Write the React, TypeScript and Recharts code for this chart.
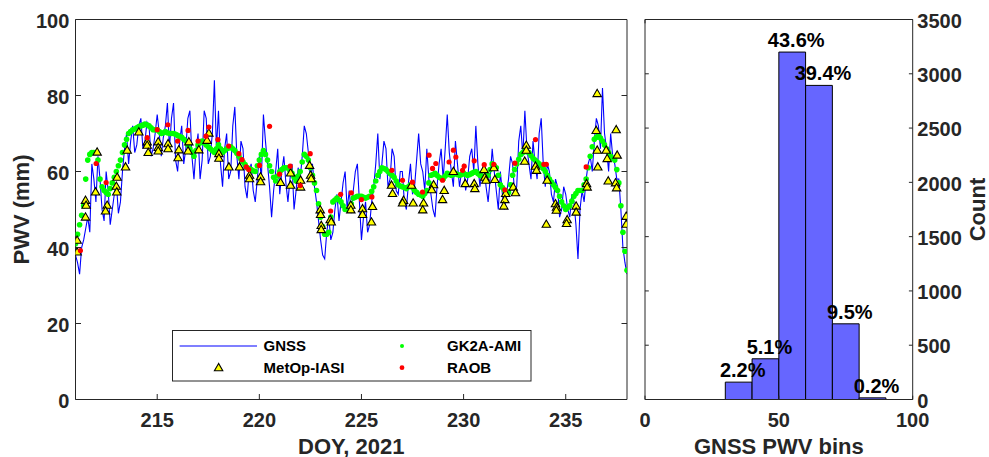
import React from 'react'
import {
  ComposedChart,
  Line,
  Scatter,
  Bar,
  XAxis,
  YAxis,
  Legend,
  LabelList,
} from 'recharts'

const FONT = "'Liberation Sans', Arial, Helvetica, sans-serif"
const INK = '#262626'

// GNSS and GK2A-AMI PWV (mm), read every 0.1 day from DOY 211.0 (one row per day)
const seriesStart = 211
const seriesStep = 0.1
const gnssPwv = [
  38, 36, 33, 40, 42, 45, 48, 44, 62, 58,
  52, 64, 58, 50, 47, 60, 55, 46, 50, 54,
  57, 49, 52, 60, 66, 70, 62, 68, 72, 65,
  67, 72, 74, 66, 68, 73, 72, 64, 66, 70,
  75, 70, 64, 69, 72, 78, 66, 74, 78, 63,
  60, 68, 72, 62, 66, 74, 76, 64, 58, 66,
  70, 58, 63, 76, 74, 62, 64, 70, 84, 66,
  76, 62, 56, 66, 70, 58, 60, 72, 77, 64,
  58, 68, 66, 56, 53, 60, 62, 55, 52, 58,
  64, 58, 75, 68, 62, 56, 48, 55, 60, 66,
  54, 60, 64, 57, 52, 58, 62, 50, 55, 61,
  58, 64, 72, 70, 65, 58, 62, 56, 52, 47,
  42, 38, 37, 44, 48, 42, 44, 50, 54, 47,
  52, 57, 60, 50, 55, 49, 55, 60, 62, 52,
  42, 48, 52, 44, 46, 52, 56, 62, 70, 58,
  62, 68, 66, 56, 58, 66, 64, 55, 54, 60,
  60, 52, 50, 57, 62, 54, 56, 63, 70, 62,
  60, 55, 66, 58, 54, 50, 48, 56, 62, 66,
  58, 66, 75, 65, 60, 56, 68, 62, 56, 60,
  62, 55, 58, 64, 66, 60, 72, 62, 56, 60,
  62, 56, 52, 58, 66, 60, 55, 50, 60, 54,
  50, 54, 58, 64, 62, 54, 56, 68, 72, 64,
  76, 66, 62, 58, 68, 62, 58, 70, 74, 62,
  56, 62, 60, 54, 52, 58, 56, 48, 50, 56,
  54, 50, 48, 54, 52, 46, 37, 50, 55, 52,
  58, 62, 64, 60, 68, 74, 72, 66, 82, 70,
  66, 60, 70, 64, 62, 58, 58, 50, 40, 36,
  33,
]
const gk2aPwv = [
  41, 43.5, 46, 48.5, 51, 58, 63, 64.5, 65, 65,
  65, 63, 58, 56, 55, 54.5, 54, 55.5, 57, 58.5,
  60, 61.5, 63, 65, 67, 68.5, 70, 70.5, 71, 71.2,
  71.5, 71.8, 72, 72.2, 72.5, 72.3, 72, 71.5, 71, 71,
  71, 70.5, 70, 70.2, 70.5, 70.2, 70, 70, 70, 69.8,
  69.5, 69.2, 69, 68.5, 68, 67, 66, 65, 64, 65.5,
  67, 67.5, 68, 67.5, 67, 66.5, 66, 65.5, 65, 66,
  67, 66, 65, 65.5, 66, 66.2, 66.5, 66, 65.5, 64.8,
  64, 63.2, 62.5, 61.8, 61, 60.8, 60.5, 60.2, 60, 61.5,
  63, 64.5, 65.5, 64.5, 63, 61.5, 60, 58.5, 57.5, 58.8,
  60, 60.5, 61, 61, 61, 60.2, 59.5, 58.5, 57.5, 58.8,
  60, 62.5, 64.5, 64, 63, 61, 59, 57, 55, 51.5,
  48, 45.5, 43.5, 43.5, 44, 48, 52, 52.5, 53, 52.5,
  52, 51, 50, 50, 50, 51.5, 53, 53.2, 53.5, 53.5,
  53.5, 53.2, 53, 53.2, 53.5, 54.8, 56, 57.5, 59, 60,
  61, 60.8, 60.5, 60, 59.5, 59, 58.5, 57.5, 56.5, 56.2,
  56, 55.8, 55.5, 56, 56.5, 55.8, 55, 54.5, 54, 53.8,
  53.5, 54.2, 55, 57, 59, 59.2, 59.5, 59, 58.5, 58.2,
  58, 58.8, 59.5, 59.2, 59, 59.2, 59.5, 59.2, 59, 59.2,
  59.5, 59.2, 59, 59.2, 59.5, 59.8, 60, 59.5, 59, 58.8,
  58.5, 58.8, 59, 60.5, 62, 61.5, 61, 59, 56.5, 55.8,
  55, 54.8, 54.5, 56.5, 59, 60.5, 62, 63.2, 64.5, 65,
  65.5, 65.2, 65, 64.2, 63.5, 63, 62.5, 62, 61.5, 60.8,
  60, 59, 58, 57.2, 56.5, 55.8, 55, 53.5, 52, 51,
  50, 50.5, 51, 52.2, 53.5, 54.2, 55, 55, 55, 56.5,
  58, 61, 64, 66.5, 68.5, 69, 69.5, 68.8, 68, 67,
  66, 65, 64, 63.5, 63, 60.5, 57, 51, 44, 39,
  34,
]

// MetOp-IASI overpasses
const iasiDoy = [
  211.08, 211.08, 211.49, 211.52, 211.49, 212.06, 211.98, 212.55, 212.47, 213.04,
  213.0, 213.02, 213.45, 213.53, 214.1, 214.51, 214.51, 214.56, 215.05, 215.05,
  215.05, 215.53, 215.53, 216.06, 216.02, 216.55, 216.51, 217.04, 217.53, 217.44,
  218.02, 218.02, 218.51, 219.03, 219.52, 219.52, 220.06, 220.06, 221.04, 221.53,
  221.53, 222.02, 222.02, 222.46, 222.51, 222.54, 222.98, 223.0, 223.03, 223.03,
  223.47, 223.52, 224.48, 224.48, 225.05, 225.05, 225.49, 225.54, 226.47, 226.52,
  227.06, 227.01, 227.45, 227.53, 228.04, 228.0, 228.53, 228.44, 228.97, 229.05,
  229.5, 230.08, 230.52, 230.55, 231.0, 231.04, 231.09, 231.48, 231.53, 232.06,
  232.02, 231.97, 232.43, 232.54, 232.99, 233.07, 233.07, 233.52, 233.57, 234.09,
  234.05, 234.5, 234.55, 234.54, 235.07, 235.04, 235.51, 235.51, 236.02, 236.05,
  236.49, 236.54, 236.54, 236.57, 236.98, 237.03, 237.08, 237.47, 237.52, 237.44,
  237.49, 237.96, 237.96,
]
const iasiPwv = [
  41.9, 38.8, 52.4, 51.1, 48.0, 65.1, 54.6, 51.1, 49.6, 58.5,
  56.1, 54.6, 61.2, 65.6, 70.4, 67.8, 66.9, 65.0, 67.8, 66.3,
  65.4, 67.3, 66.0, 65.7, 63.6, 67.8, 65.4, 65.7, 70.1, 68.2,
  64.7, 63.5, 61.2, 61.2, 59.0, 58.1, 58.6, 57.3, 57.1, 59.6,
  56.4, 57.7, 55.9, 61.6, 59.0, 58.1, 49.9, 48.7, 45.8, 44.7,
  47.3, 46.7, 51.1, 49.9, 50.2, 48.7, 46.7, 50.8, 56.4, 54.2,
  52.4, 51.7, 56.4, 51.7, 51.7, 49.9, 56.5, 55.2, 52.6, 55.0,
  60.0, 56.8, 56.8, 55.5, 60.5, 58.5, 57.7, 61.0, 57.9, 54.2,
  52.6, 50.9, 55.9, 54.4, 62.7, 66.9, 65.6, 61.4, 60.3, 57.7,
  46.1, 51.5, 50.6, 49.8, 47.3, 46.3, 50.9, 49.3, 56.8, 55.9,
  70.8, 80.5, 65.6, 61.2, 65.6, 63.4, 57.5, 71.0, 64.3, 57.0,
  55.7, 48.2, 46.1,
]

// Radiosonde launches
const raobDoy = [
  211.24, 212.01, 212.5, 214.51, 215.0, 215.52, 216.0, 216.51, 217.0, 217.39,
  217.53, 217.97, 218.5, 219.0, 219.15, 219.36, 219.48, 220.01, 220.5, 220.99,
  221.51, 222.0, 222.49, 223.49, 223.98, 224.5, 225.0, 225.51, 226.49, 227.01,
  227.5, 227.99, 228.31, 228.48, 228.64, 228.97, 229.29, 229.5, 229.62, 229.95,
  230.03, 230.52, 231.01, 231.48, 232.02, 232.51, 233.52, 233.93, 234.05, 236.0,
]
const raobPwv = [
  39.2, 62.1, 57.1, 68.9, 71.0, 72.3, 68.0, 70.8, 68.0, 69.3,
  71.7, 68.4, 66.7, 64.7, 63.1, 61.2, 60.5, 61.6, 71.9, 59.3,
  61.4, 56.3, 64.7, 49.6, 54.0, 54.4, 52.6, 53.3, 60.3, 57.7,
  57.2, 54.6, 64.3, 60.8, 62.1, 57.7, 62.5, 65.6, 63.8, 60.3,
  61.4, 62.8, 61.8, 61.9, 55.2, 62.2, 68.4, 61.9, 61.9, 61.2,
]

// GNSS PWV histogram
const binEdges = [30, 40, 50, 60, 70, 80, 90]
const binCounts = [160, 375, 3200, 2893, 697, 15]

const doyTicks = [215, 220, 225, 230, 235]
const pwvTicks = [0, 20, 40, 60, 80, 100]
const binTicks = [0, 50, 100]
const countTicks = [0, 500, 1000, 1500, 2000, 2500, 3000, 3500]

const doyAt = (i: number) => +(seriesStart + i * seriesStep).toFixed(2)
const gnss = gnssPwv.map((pwv, i) => ({ doy: doyAt(i), pwv }))
const gk2a = gk2aPwv.map((pwv, i) => ({ doy: doyAt(i), pwv }))
const iasi = iasiDoy.map((doy, i) => ({ doy, pwv: iasiPwv[i] }))
const raob = raobDoy.map((doy, i) => ({ doy, pwv: raobPwv[i] }))

const total = binCounts.reduce((a, b) => a + b, 0)
const hist = binCounts.map((count, i) => ({
  bin: (binEdges[i] + binEdges[i + 1]) / 2,
  count,
  pct: `${((100 * count) / total).toFixed(1)}%`,
}))

const tickText = { fontFamily: FONT, fontWeight: 700, fontSize: 20, fill: INK }
const titleText = { fontFamily: FONT, fontWeight: 700, fontSize: 22, fill: INK }

type Side = 'bottom' | 'top' | 'left' | 'right'

// MATLAB style: tick marks point into the axes box
function inwardTick(side: Side, len: number, withLabel: boolean) {
  return function TickMark(props: any) {
    const { x, y, payload } = props
    const dx = side === 'left' ? len : side === 'right' ? -len : 0
    const dy = side === 'bottom' ? -len : side === 'top' ? len : 0
    return (
      <g>
        <line x1={x} y1={y} x2={x + dx} y2={y + dy} stroke={INK} strokeWidth={1} />
        {withLabel && side === 'bottom' && (
          <text x={x} y={y + 27} textAnchor="middle" {...tickText}>
            {payload.value}
          </text>
        )}
        {withLabel && side === 'left' && (
          <text x={x - 6.2} y={y + 1.5} dy="0.36em" textAnchor="end" {...tickText}>
            {payload.value}
          </text>
        )}
        {withLabel && side === 'right' && (
          <text x={x + 4.6} y={y + 1} dy="0.36em" textAnchor="start" {...tickText}>
            {payload.value}
          </text>
        )}
      </g>
    )
  }
}

function triPoints(cx: number, cy: number) {
  return `${cx},${cy - 4.3} ${cx - 4.2},${cy + 3} ${cx + 4.2},${cy + 3}`
}

function IasiMarker(props: any) {
  return <polygon points={triPoints(props.cx, props.cy)} fill="#FFFF00" stroke="#000" strokeWidth={1.1} />
}

function Gk2aMarker(props: any) {
  return <circle cx={props.cx} cy={props.cy} r={2.8} fill="#00FF00" />
}

function RaobMarker(props: any) {
  return <circle cx={props.cx} cy={props.cy} r={2.6} fill="#FF0000" />
}

function LegendBox() {
  const t = { fontFamily: FONT, fontWeight: 700, fontSize: 15, fill: '#000' }
  return (
    <svg width={360} height={52} style={{ display: 'block' }}>
      <rect x={0.5} y={0.5} width={358.5} height={50.5} fill="#fff" stroke={INK} />
      <line x1={7.6} x2={85} y1={16} y2={16} stroke="#0000FF" strokeWidth={1.2} />
      <text x={91.6} y={16} dy="0.36em" {...t}>GNSS</text>
      <circle cx={230} cy={16} r={2} fill="#00FF00" />
      <text x={275} y={16} dy="0.36em" {...t}>GK2A-AMI</text>
      <polygon points={triPoints(46.6, 37.7)} fill="#FFFF00" stroke="#000" strokeWidth={1.1} />
      <text x={91.6} y={37.7} dy="0.36em" {...t}>MetOp-IASI</text>
      <circle cx={230} cy={37.7} r={2.4} fill="#FF0000" />
      <text x={275} y={37.7} dy="0.36em" {...t}>RAOB</text>
    </svg>
  )
}

function PctLabel(props: any) {
  const { x, y, width, value } = props
  return (
    <text x={x + width / 2 + 4} y={y - 5} textAnchor="middle" fontFamily={FONT} fontWeight={700} fontSize={20} fill="#000">
      {value}
    </text>
  )
}

const axisLine = { stroke: INK, strokeWidth: 1 }

function TimeSeries() {
  return (
    <ComposedChart
      width={640}
      height={457}
      margin={{ top: 18.5, right: 12, bottom: 0, left: 0 }}
      style={{ position: 'absolute', left: 0, top: 0 }}
    >
      <XAxis
        dataKey="doy"
        type="number"
        domain={[211, 238]}
        allowDataOverflow
        ticks={doyTicks}
        interval={0}
        height={57.5}
        axisLine={axisLine}
        tickLine={false}
        tickSize={0}
        tickMargin={0}
        tick={inwardTick('bottom', 5.5, true)}
        label={{
          content: (p: any) => (
            <text x={p.viewBox.x + p.viewBox.width / 2} y={p.viewBox.y + 54} textAnchor="middle" {...titleText}>
              DOY, 2021
            </text>
          ),
        }}
      />
      <XAxis
        xAxisId="top"
        orientation="top"
        type="number"
        domain={[211, 238]}
        allowDataOverflow
        ticks={doyTicks}
        interval={0}
        height={1}
        axisLine={axisLine}
        tickLine={false}
        tickSize={0}
        tickMargin={0}
        tick={inwardTick('top', 5.5, false)}
      />
      <YAxis
        dataKey="pwv"
        type="number"
        domain={[0, 100]}
        allowDataOverflow
        ticks={pwvTicks}
        interval={0}
        width={75.5}
        axisLine={axisLine}
        tickLine={false}
        tickSize={0}
        tickMargin={0}
        tick={inwardTick('left', 5.5, true)}
        label={{
          content: (p: any) => {
            const cy = p.viewBox.y + p.viewBox.height / 2
            return (
              <text x={28.5} y={cy} textAnchor="middle" transform={`rotate(-90, 28.5, ${cy})`} {...titleText}>
                PWV (mm)
              </text>
            )
          },
        }}
      />
      <YAxis
        yAxisId="r"
        orientation="right"
        type="number"
        domain={[0, 100]}
        allowDataOverflow
        ticks={pwvTicks}
        interval={0}
        width={1}
        axisLine={axisLine}
        tickLine={false}
        tickSize={0}
        tickMargin={0}
        tick={inwardTick('right', 5.5, false)}
      />
      <Line
        data={gnss}
        dataKey="pwv"
        type="linear"
        stroke="#0000FF"
        strokeWidth={1.1}
        dot={false}
        activeDot={false}
        isAnimationActive={false}
      />
      <Scatter data={gk2a} dataKey="pwv" shape={Gk2aMarker} isAnimationActive={false} />
      <Scatter data={iasi} dataKey="pwv" shape={IasiMarker} isAnimationActive={false} />
      <Scatter data={raob} dataKey="pwv" shape={RaobMarker} isAnimationActive={false} />
      <Legend
        layout="horizontal"
        verticalAlign="middle"
        align="center"
        content={() => <LegendBox />}
        wrapperStyle={{ position: 'absolute', left: 171.7, top: 330, width: 360, height: 52 }}
      />
    </ComposedChart>
  )
}

function Histogram() {
  const plotW = 349 - 5 - 76.3
  return (
    <ComposedChart
      width={349}
      height={457}
      data={hist}
      margin={{ top: 18.5, right: 0, bottom: 0, left: 4 }}
      style={{ position: 'absolute', left: 640, top: 0 }}
    >
      <XAxis
        dataKey="bin"
        type="number"
        domain={[0, 100]}
        allowDataOverflow
        ticks={binTicks}
        interval={0}
        height={57.5}
        axisLine={axisLine}
        tickLine={false}
        tickSize={0}
        tickMargin={0}
        tick={inwardTick('bottom', 3.8, true)}
        label={{
          content: (p: any) => (
            <text x={p.viewBox.x + p.viewBox.width / 2} y={p.viewBox.y + 54} textAnchor="middle" {...titleText}>
              GNSS PWV bins
            </text>
          ),
        }}
      />
      <XAxis
        xAxisId="top"
        orientation="top"
        type="number"
        domain={[0, 100]}
        allowDataOverflow
        ticks={binTicks}
        interval={0}
        height={1}
        axisLine={axisLine}
        tickLine={false}
        tickSize={0}
        tickMargin={0}
        tick={inwardTick('top', 3.8, false)}
      />
      <YAxis
        yAxisId="l"
        orientation="left"
        type="number"
        domain={[0, 3500]}
        allowDataOverflow
        ticks={countTicks}
        interval={0}
        width={1}
        axisLine={axisLine}
        tickLine={false}
        tickSize={0}
        tickMargin={0}
        tick={inwardTick('left', 3.8, false)}
      />
      <YAxis
        yAxisId="count"
        orientation="right"
        type="number"
        domain={[0, 3500]}
        allowDataOverflow
        ticks={countTicks}
        interval={0}
        width={76.3}
        axisLine={axisLine}
        tickLine={false}
        tickSize={0}
        tickMargin={0}
        tick={inwardTick('right', 3.8, true)}
        label={{
          content: (p: any) => {
            const cy = p.viewBox.y + p.viewBox.height / 2
            const bx = p.viewBox.x + p.viewBox.width - 4.5
            return (
              <text x={bx} y={cy} textAnchor="middle" transform={`rotate(-90, ${bx}, ${cy})`} {...titleText}>
                Count
              </text>
            )
          },
        }}
      />
      <Bar
        yAxisId="count"
        dataKey="count"
        barSize={(plotW / 10) * 0.999}
        fill="#6666FF"
        stroke="#000"
        strokeWidth={1}
        isAnimationActive={false}
      >
        <LabelList dataKey="pct" content={PctLabel} />
      </Bar>
    </ComposedChart>
  )
}

export default function App() {
  return (
    <div
      style={{
        position: 'absolute',
        left: 0,
        top: 0,
        width: 989,
        height: 457,
        background: '#fff',
        overflow: 'hidden',
      }}
    >
      <TimeSeries />
      <Histogram />
    </div>
  )
}
